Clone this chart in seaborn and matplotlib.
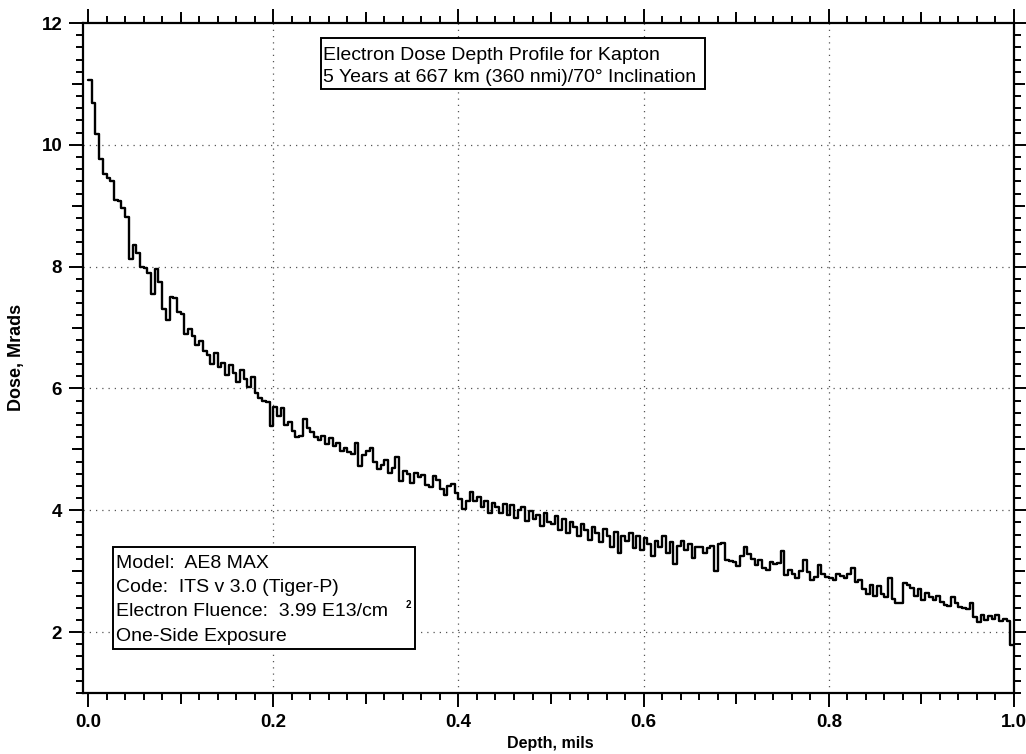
import numpy as np
import pandas as pd
import matplotlib
matplotlib.use("Agg")
import matplotlib.pyplot as plt
from matplotlib.ticker import MultipleLocator, FixedLocator, NullFormatter
from matplotlib.patches import Rectangle
import seaborn as sns

# ---------------- data ----------------
BIN_WIDTH = 0.004  # mils per histogram bin
DOSE = [
    11.07, 10.68, 10.17, 9.77, 9.52, 9.45, 9.40, 9.09, 9.08, 8.96,
    8.81, 8.13, 8.35, 8.22, 8.00, 7.98, 7.90, 7.55, 7.96, 7.74,
    7.30, 7.13, 7.50, 7.48, 7.25, 7.22, 6.90, 6.97, 6.86, 6.72,
    6.78, 6.62, 6.55, 6.40, 6.58, 6.35, 6.42, 6.22, 6.38, 6.25,
    6.10, 6.30, 6.15, 6.02, 6.18, 5.92, 5.85, 5.80, 5.78, 5.38,
    5.70, 5.55, 5.68, 5.40, 5.45, 5.30, 5.20, 5.22, 5.50, 5.35,
    5.28, 5.20, 5.15, 5.22, 5.08, 5.18, 5.05, 5.10, 4.98, 5.02,
    4.95, 4.92, 5.10, 4.72, 4.90, 4.98, 5.02, 4.80, 4.68, 4.75,
    4.82, 4.62, 4.70, 4.87, 4.48, 4.65, 4.60, 4.45, 4.62, 4.55,
    4.58, 4.42, 4.38, 4.57, 4.50, 4.35, 4.25, 4.40, 4.43, 4.28,
    4.18, 4.02, 4.15, 4.30, 4.15, 4.22, 4.05, 4.15, 3.95, 4.12,
    4.05, 3.96, 4.10, 3.92, 4.08, 3.88, 4.00, 4.05, 3.82, 3.98,
    3.85, 3.92, 3.75, 3.95, 3.80, 3.78, 3.90, 3.68, 3.85, 3.62,
    3.80, 3.72, 3.58, 3.78, 3.68, 3.52, 3.72, 3.62, 3.48, 3.70,
    3.58, 3.40, 3.65, 3.30, 3.58, 3.50, 3.62, 3.38, 3.58, 3.35,
    3.55, 3.45, 3.25, 3.50, 3.40, 3.58, 3.30, 3.48, 3.12, 3.42,
    3.50, 3.35, 3.45, 3.22, 3.40, 3.40, 3.30, 3.38, 3.42, 3.00,
    3.44, 3.46, 3.18, 3.16, 3.15, 3.08, 3.25, 3.40, 3.28, 3.20,
    3.10, 3.19, 3.05, 3.02, 3.15, 3.12, 3.13, 3.33, 2.94, 3.02,
    2.95, 2.88, 3.00, 3.19, 2.98, 2.85, 2.90, 3.10, 2.95, 2.91,
    2.88, 2.86, 2.96, 2.92, 2.88, 2.95, 3.05, 2.83, 2.86, 2.70,
    2.62, 2.78, 2.60, 2.75, 2.62, 2.58, 2.88, 2.55, 2.47, 2.48,
    2.80, 2.78, 2.72, 2.60, 2.70, 2.52, 2.64, 2.58, 2.52, 2.60,
    2.50, 2.45, 2.43, 2.58, 2.48, 2.42, 2.39, 2.38, 2.47, 2.25,
    2.16, 2.28, 2.20, 2.26, 2.22, 2.28, 2.19, 2.22, 2.18, 1.78,
]

X_TICKS = [0.0, 0.2, 0.4, 0.6, 0.8, 1.0]
X_TICK_LABELS = ["0.0", "0.2", "0.4", "0.6", "0.8", "1.0"]
Y_TICKS = [2, 4, 6, 8, 10, 12]
Y_TICK_LABELS = ["2", "4", "6", "8", "10", "12"]
X_LABEL = "Depth, mils"
Y_LABEL = "Dose, Mrads"
TITLE_LINES = ["Electron Dose Depth Profile for Kapton",
               "5 Years at 667 km (360 nmi)/70\u00b0 Inclination"]
INFO_LINES = ["Model:  AE8 MAX",
              "Code:  ITS v 3.0 (Tiger-P)",
              "Electron Fluence:  3.99 E13/cm",
              "One-Side Exposure"]
SUPERSCRIPT = "2"

# ---------------- styling ----------------
sns.set_theme(style="white")
plt.rcParams["font.family"] = ["Liberation Sans", "DejaVu Sans"]
plt.rcParams["text.color"] = "black"
plt.rcParams["axes.labelcolor"] = "black"
plt.rcParams["xtick.color"] = "black"
plt.rcParams["ytick.color"] = "black"

W, H = 1026, 754
fig = plt.figure(figsize=(W / 100, H / 100), dpi=100)
fig.patch.set_facecolor("white")

# axes frame in pixels: left 83, right 1014, top 23, bottom 693
L, R, T, B = 83, 1014, 23, 693
ax = fig.add_axes([L / W, 1 - B / H, (R - L) / W, (B - T) / H])
ax.set_facecolor("white")

depth_edges = np.arange(len(DOSE) + 1) * BIN_WIDTH
df = pd.DataFrame({"depth": depth_edges, "dose": DOSE + [DOSE[-1]]})
sns.lineplot(data=df, x="depth", y="dose", ax=ax, color="black", lw=1.7,
             drawstyle="steps-post", estimator=None, sort=False, legend=False,
             zorder=3)

ax.set_xlim(-0.0055, 1.0)
ax.set_ylim(1.0, 12.0)

# grid: dotted
for gx in X_TICKS[1:-1]:
    ax.axvline(gx, color="#555555", lw=0.9, ls=(0, (1, 4)), zorder=1)
for gy in Y_TICKS[:-1]:
    ax.axhline(gy, color="#555555", lw=0.9, ls=(0, (1, 4)), zorder=1)

for sp in ax.spines.values():
    sp.set_linewidth(1.6)
    sp.set_color("black")
    sp.set_visible(True)

ax.xaxis.set_major_locator(FixedLocator(X_TICKS))
ax.set_xticklabels(X_TICK_LABELS)
ax.xaxis.set_minor_locator(MultipleLocator(0.02))
ax.yaxis.set_major_locator(FixedLocator(Y_TICKS))
ax.set_yticklabels(Y_TICK_LABELS)
ax.yaxis.set_minor_locator(MultipleLocator(0.2))

ax.tick_params(which="both", direction="out", top=True, right=True,
               bottom=True, left=True, color="black", width=1.4,
               labelcolor="black")
ax.tick_params(which="major", length=10, labelsize=13.5, pad=5)
ax.tick_params(which="minor", length=5)
for lab in ax.get_xticklabels() + ax.get_yticklabels():
    lab.set_fontweight("bold")

# intermediate-length ticks (0.1 mils / 1 Mrad)
for loc in ("top", "bottom"):
    sec = ax.secondary_xaxis(loc)
    sec.set_xticks([0.1, 0.3, 0.5, 0.7, 0.9])
    sec.xaxis.set_major_formatter(NullFormatter())
    sec.tick_params(direction="out", length=8, width=1.4, color="black")
    for sp in sec.spines.values():
        sp.set_visible(False)
for loc in ("left", "right"):
    sec = ax.secondary_yaxis(loc)
    sec.set_yticks([3, 5, 7, 9, 11])
    sec.yaxis.set_major_formatter(NullFormatter())
    sec.tick_params(direction="out", length=8, width=1.4, color="black")
    for sp in sec.spines.values():
        sp.set_visible(False)

ax.set_xlabel(X_LABEL, fontsize=11.5, fontweight="bold", color="black")
ax.set_ylabel(Y_LABEL, fontsize=13, fontweight="bold", color="black")
ax.xaxis.set_label_coords((550 - L) / (R - L), (B - 736) / (B - T))
ax.yaxis.set_label_coords((25 - L) / (R - L), (B - 357) / (B - T))


def fx(px):
    return px / W


def fy(py):
    return 1 - py / H


# title box
fig.patches.append(Rectangle((fx(321), fy(89)), fx(705) - fx(321), fy(38) - fy(89),
                             transform=fig.transFigure, fill=True, fc="white",
                             ec="black", lw=1.4, zorder=5))
for i, line in enumerate(TITLE_LINES):
    fig.text(fx(323), fy(55 + 23 * i), line, fontsize=14, va="center",
             ha="left", color="black", zorder=6)

# info box
fig.patches.append(Rectangle((fx(113), fy(649)), fx(415) - fx(113), fy(547) - fy(649),
                             transform=fig.transFigure, fill=True, fc="white",
                             ec="black", lw=1.4, zorder=5))
for i, line in enumerate(INFO_LINES):
    fig.text(fx(116), fy(563 + 24.4 * i), line, fontsize=14, va="center",
             ha="left", color="black", zorder=6)
fig.text(fx(408), fy(605), SUPERSCRIPT, fontsize=7, va="center", ha="center",
         fontweight="bold", color="black", zorder=6)

fig.savefig("out.png", dpi=100, facecolor="white")
